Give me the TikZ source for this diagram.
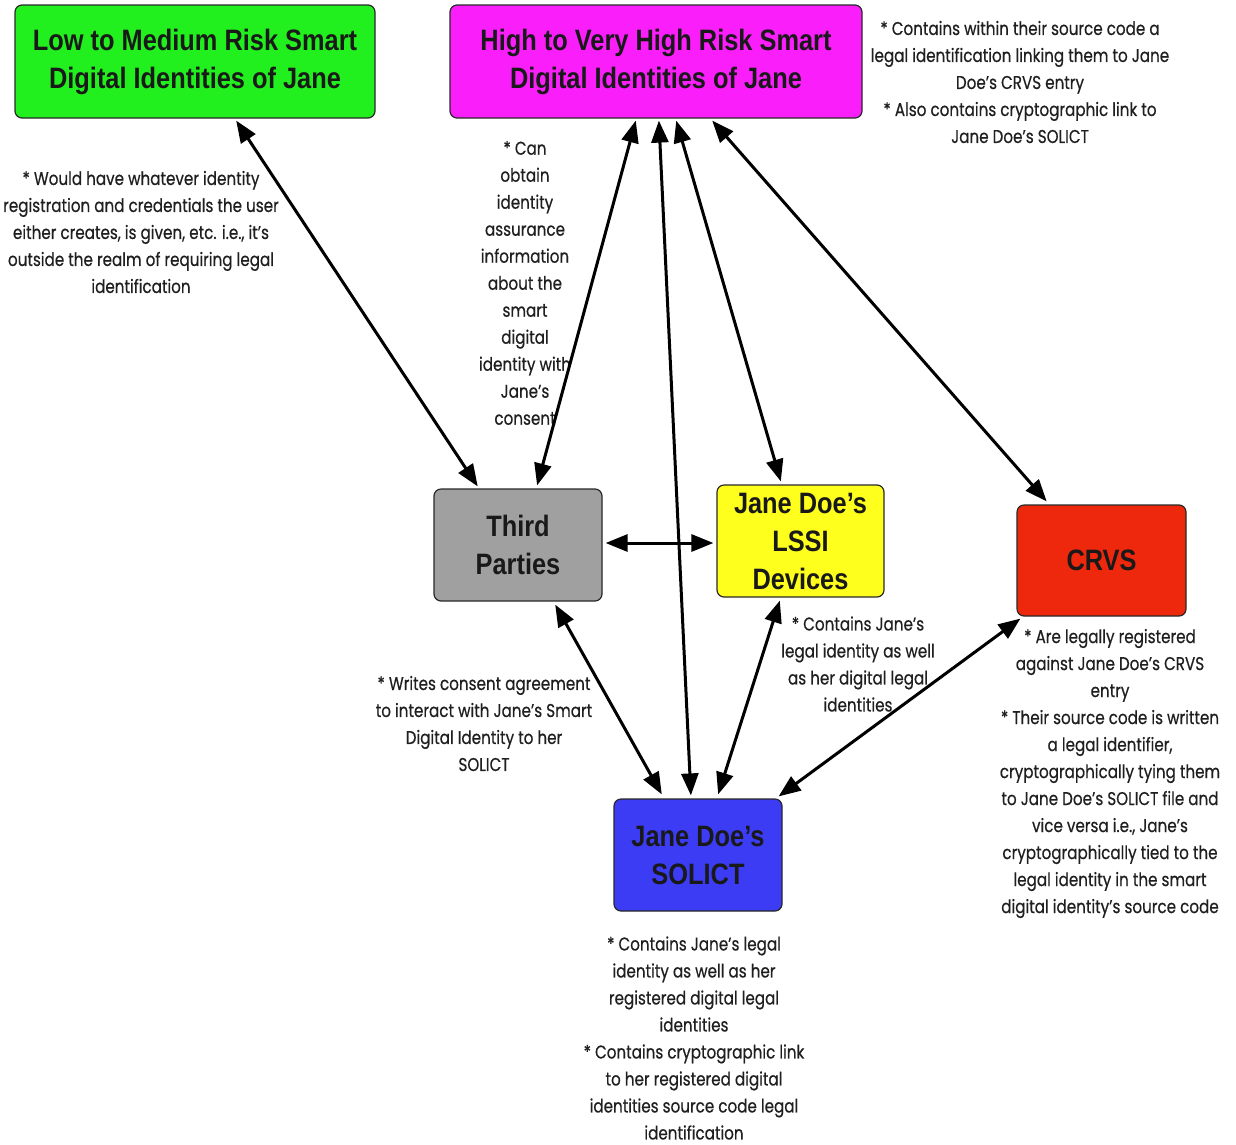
\documentclass[tikz,border=0pt]{standalone}
\usepackage{fontspec}
\usetikzlibrary{arrows.meta,calc}
\newfontfamily\titlefont{Liberation Sans}[FakeStretch=0.86]
\newfontfamily\notefont{Poppins}[FakeStretch=0.82,FakeBold=0.5]
\definecolor{boxgreen}{RGB}{34,240,30}
\definecolor{boxmagenta}{RGB}{250,30,250}
\definecolor{boxgray}{RGB}{160,160,160}
\definecolor{boxyellow}{RGB}{255,255,30}
\definecolor{boxred}{RGB}{238,40,12}
\definecolor{boxblue}{RGB}{60,60,245}
\definecolor{edgedark}{RGB}{40,40,40}
\begin{document}
\begin{tikzpicture}[x=1pt,y=-1pt,
  entity/.style={draw=edgedark,line width=1.2pt,rounded corners=7pt,
    align=center,inner sep=0pt,text=black!90,
    font=\titlefont\bfseries\fontsize{29.5}{38}\selectfont},
  note/.style={align=center,inner sep=0pt,text=black!88,
    font=\notefont\fontsize{18.5}{27}\selectfont},
  link/.style={line width=3pt,
    {Triangle[length=22pt,width=17pt]}-{Triangle[length=22pt,width=17pt]}}]
\useasboundingbox (0,0) rectangle (1236,1144);

% entities
\node[entity,fill=boxgreen,minimum width=360pt,minimum height=113pt] (low) at (195,61.5)
  {Low to Medium Risk Smart\\Digital Identities of Jane};
\node[entity,fill=boxmagenta,minimum width=412pt,minimum height=113pt] (high) at (656,61.5)
  {High to Very High Risk Smart\\Digital Identities of Jane};
\node[entity,fill=boxgray,minimum width=168pt,minimum height=112pt] (third) at (518,545)
  {Third\\Parties};
\node[entity,fill=boxyellow,minimum width=167pt,minimum height=112pt] (lssi) at (800.5,541)
  {Jane Doe’s\\LSSI\\Devices};
\node[entity,fill=boxred,minimum width=169pt,minimum height=111pt] (crvs) at (1101.5,560.5)
  {CRVS};
\node[entity,fill=boxblue,minimum width=168pt,minimum height=112pt] (solict) at (698,855)
  {Jane Doe’s\\SOLICT};

% notes
\node[note] (n-low) at (141,232)
  {* Would have whatever identity\\registration and credentials the user\\either creates, is given, etc. i.e., it’s\\outside the realm of requiring legal\\identification};
\node[note] (n-high) at (1020,82)
  {* Contains within their source code a\\legal identification linking them to Jane\\Doe’s CRVS entry\\* Also contains cryptographic link to\\Jane Doe’s SOLICT};
\node[note] (n-third) at (525,283)
  {* Can\\obtain\\identity\\assurance\\information\\about the\\smart\\digital\\identity with\\Jane’s\\consent};
\node[note] (n-consent) at (484,723.5)
  {* Writes consent agreement\\to interact with Jane’s Smart\\Digital Identity to her\\SOLICT};
\node[note] (n-lssi) at (858,664)
  {* Contains Jane’s\\legal identity as well\\as her digital legal\\identities};
\node[note] (n-crvs) at (1110,773.5)
  {* Are legally registered\\against Jane Doe’s CRVS\\entry\\* Their source code is written\\a legal identifier,\\cryptographically tying them\\to Jane Doe’s SOLICT file and\\vice versa i.e., Jane’s\\cryptographically tied to the\\legal identity in the smart\\digital identity’s source code};
\node[note] (n-solict) at (694,1038)
  {* Contains Jane’s legal\\identity as well as her\\registered digital legal\\identities\\* Contains cryptographic link\\to her registered digital\\identities source code legal\\identification};

% connectors
\draw[link] ($(low.south west)!0.614!(low.south east)+(0,2)$) --
            ($(third.north west)!0.262!(third.north east)+(0,-2)$);
\draw[link] ($(high.south west)!0.451!(high.south east)+(0,2)$) --
            ($(third.north west)!0.613!(third.north east)+(0,-3)$);
\draw[link] ($(high.south west)!0.507!(high.south east)+(0,2)$) --
            ($(solict.north west)!0.458!(solict.north east)+(0,-3)$);
\draw[link] ($(high.south west)!0.549!(high.south east)+(0,2)$) --
            ($(lssi.north west)!0.383!(lssi.north east)+(0,-3)$);
\draw[link] ($(high.south west)!0.636!(high.south east)+(0,2)$) --
            ($(crvs.north west)!0.178!(crvs.north east)+(0,-3)$);
\draw[link] ($(third.east)+(3,-2)$) -- ($(third.east -| lssi.west)+(-3,-2)$);
\draw[link] ($(third.south west)!0.72!(third.south east)+(0,3)$) --
            ($(solict.north west)!0.286!(solict.north east)+(0,-4)$);
\draw[link] ($(lssi.south west)!0.377!(lssi.south east)+(0,3)$) --
            ($(solict.north west)!0.619!(solict.north east)+(0,-4)$);
\draw[link] ($(crvs.south west)+(4,2)$) -- ($(solict.north east)+(-4,-2)$);
\end{tikzpicture}
\end{document}
